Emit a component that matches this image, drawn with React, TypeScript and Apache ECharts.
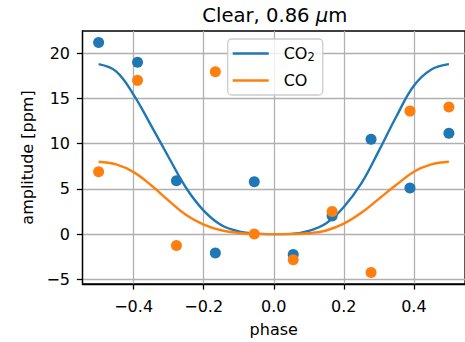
import React, { useEffect, useRef } from 'react';
import * as echarts from 'echarts';

// Observed phases and amplitudes
const obsPhase = [-0.5, -0.3889, -0.2778, -0.1667, -0.0556, 0.0556, 0.1667, 0.2778, 0.3889, 0.5];
const co2Obs = [21.2, 19.0, 5.9, -2.1, 5.8, -2.25, 2.0, 10.5, 5.1, 11.15];
const coObs = [6.9, 17.0, -1.25, 17.95, 0.0, -2.85, 2.5, -4.25, 13.6, 14.05];

// Model curves
const modelPhase = [-0.5, -0.45, -0.4, -0.35, -0.3, -0.25, -0.2, -0.15, -0.1, -0.05, 0, 0.05, 0.1, 0.15, 0.2, 0.25, 0.3, 0.35, 0.4, 0.45, 0.5];
const co2Model = [18.8, 18.0, 15.4, 12.0, 8.5, 5.1, 2.6, 1.0, 0.3, 0.05, 0.0, 0.02, 0.35, 1.2, 3.0, 5.6, 9.2, 13.0, 16.4, 18.2, 18.8];
const coModel = [8.0, 7.7, 6.85, 5.4, 3.7, 2.1, 1.05, 0.42, 0.12, 0.02, 0.0, 0.01, 0.1, 0.4, 1.15, 2.35, 3.9, 5.45, 6.9, 7.7, 8.0];

// Ticks
const xTicks = [-0.4, -0.2, 0, 0.2, 0.4];
const yTicks = [-5, 0, 5, 10, 15, 20];

const FONT = 'DejaVu Sans';
const BLUE = '#1f77b4';
const ORANGE = '#ff7f0e';

const minus = (s: string) => s.replace('-', '\u2212');

export default function App() {
  const ref = useRef<HTMLDivElement>(null);
  useEffect(() => {
    document.body.style.margin = '0';
    const chart = echarts.init(ref.current!, null, { renderer: 'svg' });
    const axisCommon = {
      type: 'value' as const,
      axisLine: { show: true, onZero: false, lineStyle: { color: '#000', width: 1.28 } },
      splitLine: { show: true, lineStyle: { color: '#b0b0b0', width: 1.28 } },
      nameLocation: 'middle' as const,
      nameTextStyle: { fontSize: 16, color: '#000', fontFamily: FONT },
    };
    chart.setOption({
      animation: false,
      textStyle: { fontFamily: FONT },
      title: {
        text: '{a|Clear, 0.86 }{b|\u03bc}{a|m}',
        left: 274.8,
        top: 5,
        padding: 0,
        textAlign: 'center',
        textStyle: {
          fontWeight: 'normal',
          rich: {
            a: { fontSize: 19.6, color: '#000', fontFamily: FONT, fontWeight: 'normal' },
            b: { fontSize: 19.6, color: '#000', fontFamily: FONT, fontStyle: 'italic', fontWeight: 'normal' },
          },
        },
      },
      grid: {
        left: 82.5,
        right: -2.2,
        top: 31,
        bottom: 57,
        show: true,
        borderColor: '#000',
        borderWidth: 1.28,
        backgroundColor: 'transparent',
      },
      legend: {
        data: ['CO2', 'CO'],
        orient: 'vertical',
        left: 227.7,
        top: 39,
        icon: 'rect',
        itemWidth: 36,
        itemHeight: 2.4,
        itemGap: 10,
        selectedMode: false,
        padding: [6.5, 8, 6.5, 5],
        backgroundColor: 'rgba(255,255,255,0.8)',
        borderColor: '#cccccc',
        borderWidth: 1.28,
        borderRadius: 4,
        formatter: (name: string) => (name === 'CO2' ? '{a|CO}{b|2}' : '{a|CO}'),
        textStyle: {
          padding: [0, 0, 0, 10],
          rich: {
            a: { fontSize: 16, lineHeight: 18, color: '#000', fontFamily: FONT },
            b: { fontSize: 11.5, lineHeight: 11.5, verticalAlign: 'bottom', color: '#000', fontFamily: FONT },
          },
        },
      },
      xAxis: {
        ...axisCommon,
        min: -0.546,
        max: 0.546,
        name: 'phase',
        nameGap: 37,
        axisTick: { show: true, length: 5.6, customValues: xTicks, lineStyle: { color: '#000', width: 1.28 } },
        axisLabel: {
          customValues: xTicks,
          fontSize: 16,
          color: '#000',
          margin: 14,
          formatter: (v: number) => minus(v.toFixed(1)),
        },
      },
      yAxis: {
        ...axisCommon,
        min: -5.52,
        max: 22.46,
        name: 'amplitude [ppm]',
        nameGap: 46,
        axisTick: { show: true, length: 5.6, customValues: yTicks, lineStyle: { color: '#000', width: 1.28 } },
        axisLabel: {
          customValues: yTicks,
          fontSize: 16,
          color: '#000',
          margin: 12.5,
          formatter: (v: number) => minus(String(Math.round(v))),
        },
      },
      series: [
        {
          type: 'line',
          name: 'CO2',
          data: modelPhase.map((p, i) => [p, co2Model[i]]),
          symbol: 'none',
          showSymbol: false,
          smooth: 0.4,
          lineStyle: { color: BLUE, width: 2.4 },
          itemStyle: { color: BLUE },
          z: 2,
        },
        {
          type: 'line',
          name: 'CO',
          data: modelPhase.map((p, i) => [p, coModel[i]]),
          symbol: 'none',
          showSymbol: false,
          smooth: 0.4,
          lineStyle: { color: ORANGE, width: 2.4 },
          itemStyle: { color: ORANGE },
          z: 2,
        },
        {
          type: 'scatter',
          name: 'CO2 obs',
          data: obsPhase.map((p, i) => [p, co2Obs[i]]),
          symbolSize: 11,
          itemStyle: { color: BLUE, opacity: 1 },
          z: 3,
        },
        {
          type: 'scatter',
          name: 'CO obs',
          data: obsPhase.map((p, i) => [p, coObs[i]]),
          symbolSize: 11,
          itemStyle: { color: ORANGE, opacity: 1 },
          z: 3,
        },
      ],
    });
    return () => chart.dispose();
  }, []);
  return <div ref={ref} style={{ width: 465, height: 342 }} />;
}
